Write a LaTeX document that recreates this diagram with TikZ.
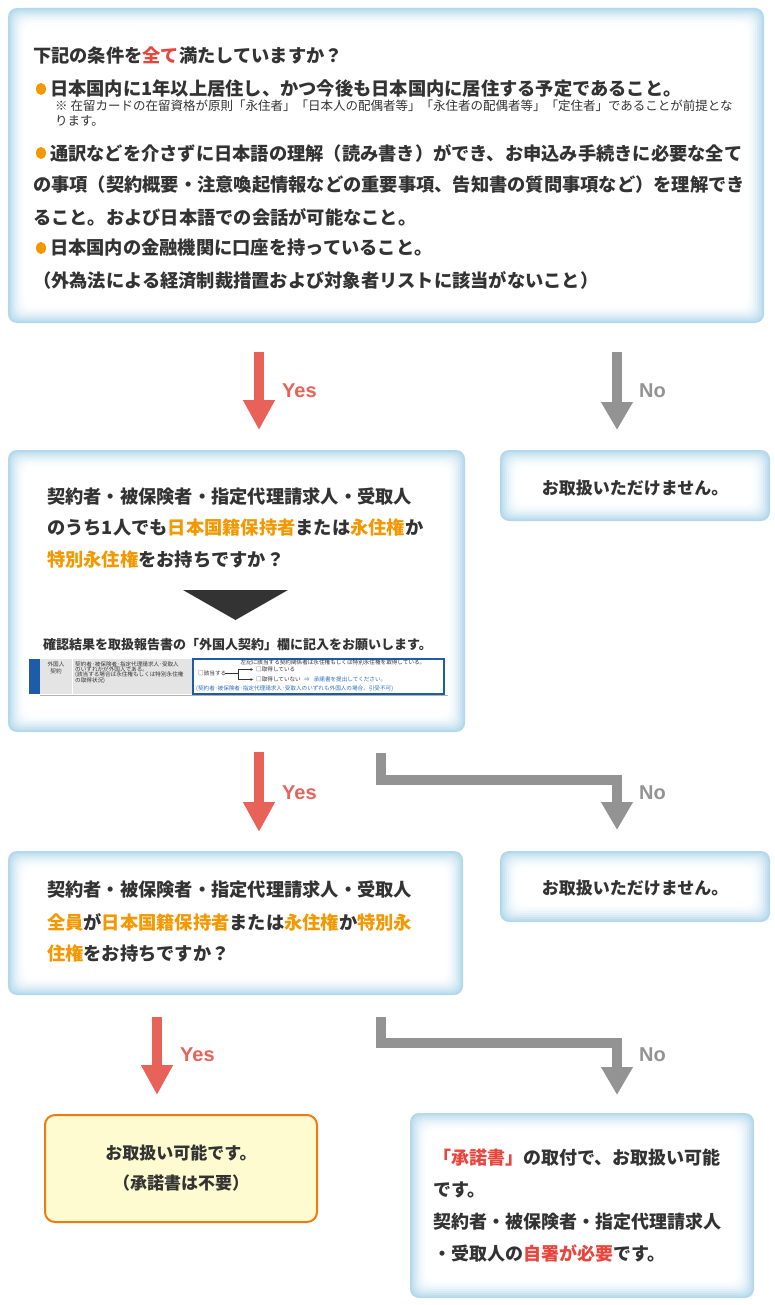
\documentclass[tikz,border=0pt]{standalone}
\usepackage{fontspec}
\setmainfont{Noto Sans CJK JP}
\newfontfamily\labfont{Liberation Sans}
\usetikzlibrary{arrows.meta,calc}
\definecolor{txt}{HTML}{333333}
\definecolor{redc}{HTML}{E8453C}
\definecolor{orc}{HTML}{F39800}
\definecolor{glowc}{HTML}{B3D8EC}
\definecolor{yesc}{HTML}{E9625A}
\definecolor{noc}{HTML}{939393}
\definecolor{dark}{HTML}{333333}
\definecolor{formblue}{HTML}{1D5CA8}
\definecolor{formgray}{HTML}{E4E4E4}
\definecolor{linkblue}{HTML}{2A6FC0}
\definecolor{yelfill}{HTML}{FFFBD0}
\definecolor{yeldraw}{HTML}{EE7A12}
\newcommand\fs[1]{\fontsize{#1}{#1}\selectfont}
\newcommand\glowbox[1]{%
  \foreach \dd/\cc in {0/100,1.5/85,3/68,5/52,7/38,9/26,11/16,13/8,15/3,17/0}{%
    \fill[glowc!\cc!white, rounded corners=9pt]
      ([shift={(\dd,\dd)}]#1.north west) rectangle ([shift={(-\dd,-\dd)}]#1.south east);}}
\tikzset{
  boxshape/.style={rectangle, inner sep=0pt, outer sep=0pt},
  line/.style={anchor=west, inner sep=0pt, text=txt, font=\fs{18.25}\bfseries},
  cline/.style={inner sep=0pt, text=txt, font=\fs{17}\bfseries},
  note/.style={anchor=west, inner sep=0pt, text=txt, font=\fs{12.5}},
  formtxt/.style={anchor=west, inner sep=0pt, text=txt, font=\fs{5.6}},
  yesarrow/.style={draw=yesc, line width=10pt, -{Triangle[width=30pt,length=30pt]}},
  noarrow/.style={draw=noc, line width=10pt, line join=miter, -{Triangle[width=30pt,length=28pt]}},
  yeslab/.style={anchor=west, inner sep=0pt, text=yesc, font=\labfont\fs{20}\bfseries},
  nolab/.style={anchor=west, inner sep=0pt, text=noc, font=\labfont\fs{20}\bfseries},
}
\begin{document}
\begin{tikzpicture}[x=1pt,y=-1pt]
\fill[white] (0,0) rectangle (774,1305);
\useasboundingbox (0,0) rectangle (774,1305);

% ---------- boxes ----------
\node[boxshape, minimum width=756pt, minimum height=315pt] (top) at (386,165.5) {};
\node[boxshape, minimum width=457pt, minimum height=282pt] (q2) at (236.5,591) {};
\node[boxshape, minimum width=270pt, minimum height=71pt] (no1) at (635,485.5) {};
\node[boxshape, minimum width=455pt, minimum height=144pt] (q3) at (235.5,923) {};
\node[boxshape, minimum width=270pt, minimum height=71pt] (no2) at (635,886.5) {};
\node[boxshape, minimum width=344pt, minimum height=185pt] (fin) at (582,1205.5) {};
\node[boxshape, minimum width=272pt, minimum height=107pt, draw=yeldraw, line width=2pt,
      fill=yelfill, rounded corners=10pt] (ok) at (181,1168.5) {};
\glowbox{top}
\glowbox{q2}
\glowbox{no1}
\glowbox{q3}
\glowbox{no2}
\glowbox{fin}

% ---------- top box text ----------
\node[line] (t0) at (33,56) {下記の条件を\textcolor{redc}{全て}満たしていますか？};
\fill[orc] (41,89) ellipse (5 and 6);
\node[line] (t1) at (50,89) {日本国内に1年以上居住し、かつ今後も日本国内に居住する予定であること。};
\node[note] (t1n) at (55,106) {※ 在留カードの在留資格が原則「永住者」「日本人の配偶者等」「永住者の配偶者等」「定住者」であることが前提とな};
\node[note] (t1m) at (55,121) {ります。};
\fill[orc] (41,153) ellipse (5 and 6);
\node[line] (t2) at (50,153) {通訳などを介さずに日本語の理解（読み書き）ができ、お申込み手続きに必要な全て};
\node[line] (t2b) at (33,185) {の事項（契約概要・注意喚起情報などの重要事項、告知書の質問事項など）を理解でき};
\node[line] (t2c) at (33,217) {ること。および日本語での会話が可能なこと。};
\fill[orc] (41,248) ellipse (5 and 6);
\node[line] (t3) at (50,248) {日本国内の金融機関に口座を持っていること。};
\node[line] (t3b) at (33,280) {（外為法による経済制裁措置および対象者リストに該当がないこと）};

% ---------- second box ----------
\node[line] (q2a) at (47,497) {契約者・被保険者・指定代理請求人・受取人};
\node[line] (q2b) at (47,528) {のうち1人でも\textcolor{orc}{日本国籍保持者}または\textcolor{orc}{永住権}か};
\node[line] (q2c) at (47,560) {\textcolor{orc}{特別永住権}をお持ちですか？};
\fill[dark] (183,590) -- (288,590) -- (235.5,620) -- cycle;
\node[anchor=west, inner sep=0pt, text=txt, font=\fs{13}\bfseries] (conf) at (43,645)
  {確認結果を取扱報告書の「外国人契約」欄に記入をお願いします。};
% form image
\fill[formblue] (29,659) rectangle (40,694);
\fill[formgray] (40,659) rectangle (192,694);
\draw[white, line width=1pt] (72,659) -- (72,694);
\draw[gray!60, line width=0.8pt] (40,695) -- (448,695);
\draw[formblue, line width=1.2pt, fill=white] (193,659) rectangle (444,694);
\node[formtxt, anchor=center] (f1) at (56,664) {外国人};
\node[formtxt, anchor=center] (f2) at (56,671) {契約};
\node[formtxt] (f3) at (75,664) {契約者･被保険者･指定代理請求人･受取人};
\node[formtxt] (f4) at (75,669.5) {のいずれかが外国人である。};
\node[formtxt] (f5) at (75,675) {(該当する場合は永住権もしくは特別永住権};
\node[formtxt] (f6) at (75,680.5) {の取得状況)};
\node[formtxt, anchor=center] (f7) at (333,662.5) {左記に該当する契約関係者は永住権もしくは特別永住権を取得している。};
\node[formtxt] (f8) at (198,673.5) {□該当する};
\draw[txt, line width=0.5pt] (225,673.5) -- (238,673.5);
\draw[txt, line width=0.5pt] (238,669.5) -- (238,679.5);
\draw[txt, line width=0.5pt, -{Triangle[width=2.5pt,length=2.5pt]}] (238,669.5) -- (253,669.5);
\draw[txt, line width=0.5pt, -{Triangle[width=2.5pt,length=2.5pt]}] (238,679.5) -- (253,679.5);
\node[formtxt] (f9) at (256,669.5) {□取得している};
\node[formtxt] (f10) at (256,679.5) {□取得していない};
\node[formtxt, text=linkblue] (f11) at (304,679.5) {⇒\hspace{4pt}承諾書を提出してください。};
\node[formtxt, text=linkblue] (f12) at (196,688.5) {(契約者･被保険者･指定代理請求人･受取人のいずれも外国人の場合、引受不可)};

% ---------- no boxes ----------
\node[cline] (n1) at (635,488) {お取扱いただけません。};
\node[cline] (n2) at (635,888) {お取扱いただけません。};

% ---------- third box ----------
\node[line] (q3a) at (47,890) {契約者・被保険者・指定代理請求人・受取人};
\node[line] (q3b) at (47,922) {\textcolor{orc}{全員}が\textcolor{orc}{日本国籍保持者}または\textcolor{orc}{永住権}か\textcolor{orc}{特別永}};
\node[line] (q3c) at (47,954) {\textcolor{orc}{住権}をお持ちですか？};

% ---------- result boxes ----------
\node[cline] (ok1) at (181,1153) {お取扱い可能です。};
\node[cline] (ok2) at (181,1183) {（承諾書は不要）};
\node[line, font=\fs{18}\bfseries] (fa) at (433,1158) {\textcolor{redc}{「承諾書」}の取付で、お取扱い可能};
\node[line, font=\fs{18}\bfseries] (fb) at (433,1190) {です。};
\node[line, font=\fs{18}\bfseries] (fc) at (433,1222) {契約者・被保険者・指定代理請求人};
\node[line, font=\fs{18}\bfseries] (fd) at (433,1253) {・受取人の\textcolor{redc}{自署が必要}です。};

% ---------- connectors ----------
\draw[yesarrow, shorten <=29pt, shorten >=20pt] ([xshift=251pt]top.south west) -- ([xshift=251pt]top.south west |- q2.north);
\draw[noarrow, shorten <=29pt, shorten >=20pt] ([xshift=609pt]top.south west) -- ([xshift=609pt]top.south west |- no1.north);
\node[yeslab] (y1) at (282,391) {Yes};
\node[nolab] (m1) at (639,391) {No};

\draw[yesarrow, shorten <=20pt, shorten >=19pt] ([xshift=251pt]q2.south west) -- ([xshift=251pt]q2.south west |- q3.north);
\coordinate (c2) at (617,780);
\draw[noarrow, shorten <=21pt, shorten >=21pt] ([xshift=373pt]q2.south west) -- ([xshift=373pt]q2.south west |- c2) -- (c2) -- (c2 |- no2.north);
\node[yeslab] (y2) at (282,793) {Yes};
\node[nolab] (m2) at (639,793) {No};

\draw[yesarrow, shorten <=22pt, shorten >=20pt] ([xshift=149pt]q3.south west) -- ([xshift=149pt]q3.south west |- ok.north);
\coordinate (c3) at (617,1043);
\draw[noarrow, shorten <=22pt, shorten >=18pt] ([xshift=373pt]q3.south west) -- ([xshift=373pt]q3.south west |- c3) -- (c3) -- (c3 |- fin.north);
\node[yeslab] (y3) at (180,1055) {Yes};
\node[nolab] (m3) at (639,1055) {No};
\end{tikzpicture}
\end{document}
